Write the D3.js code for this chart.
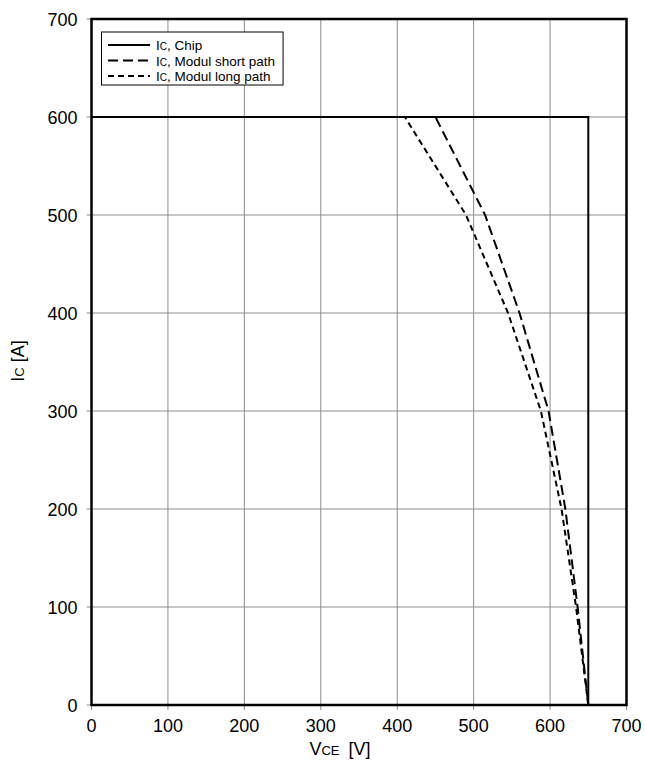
<!DOCTYPE html>
<html>
<head>
<meta charset="utf-8">
<script src="https://cdn.jsdelivr.net/npm/d3@7"></script>
<style>
    body { margin: 0; background: #fff; }
    text { font-family: "Liberation Sans", Arial, sans-serif; }
</style>
</head>
<body>
<div id="chart"></div>
<script>
// values
const xTicks = [0, 100, 200, 300, 400, 500, 600, 700];
const yTicks = [0, 100, 200, 300, 400, 500, 600, 700];

const chipV = [0, 650, 650];
const chipI = [600, 600, 0];

const shortV = [0, 450, 515, 560, 598, 620, 636, 650];
const shortI = [600, 600, 500, 400, 300, 200, 100, 0];

const longV = [0, 410, 490, 545, 588, 615, 634, 650];
const longI = [600, 600, 500, 400, 300, 200, 100, 0];

const seriesNames = ["Chip", "Modul short path", "Modul long path"];

function init() {
    let w = 645;
    let h = 763;
    const left = 91.5, right = 626.5, top = 19, bottom = 705;

    let svg = d3.select("#chart")
        .append("svg")
        .attr("width", w)
        .attr("height", h);

    let x = d3.scaleLinear().domain([0, 700]).range([left, right]);
    let y = d3.scaleLinear().domain([0, 700]).range([bottom, top]);

    // grid
    svg.append("g")
        .selectAll("line")
        .data(xTicks)
        .enter()
        .append("line")
        .attr("x1", d => x(d)).attr("x2", d => x(d))
        .attr("y1", top).attr("y2", bottom + 5)
        .attr("stroke", "#8c8c8c")
        .attr("stroke-width", 1);

    svg.append("g")
        .selectAll("line")
        .data(yTicks)
        .enter()
        .append("line")
        .attr("x1", left - 5).attr("x2", right)
        .attr("y1", d => y(d)).attr("y2", d => y(d))
        .attr("stroke", "#8c8c8c")
        .attr("stroke-width", 1);

    // tick labels
    svg.append("g")
        .selectAll("text")
        .data(xTicks)
        .enter()
        .append("text")
        .attr("x", d => x(d))
        .attr("y", bottom + 27)
        .attr("text-anchor", "middle")
        .style("font-size", "18px")
        .text(d => d);

    svg.append("g")
        .selectAll("text")
        .data(yTicks)
        .enter()
        .append("text")
        .attr("x", left - 14)
        .attr("y", d => y(d) + 6.5)
        .attr("text-anchor", "end")
        .style("font-size", "18px")
        .text(d => d);

    // curves
    let line = d3.line()
        .x(d => x(d[0]))
        .y(d => y(d[1]));

    let chip = chipV.map((v, i) => [v, chipI[i]]);
    let shortPath = shortV.map((v, i) => [v, shortI[i]]);
    let longPath = longV.map((v, i) => [v, longI[i]]);

    const dashes = [null, "10,5", "6,4"];

    [chip, shortPath, longPath].forEach(function (pts, k) {
        svg.append("path")
            .datum(pts)
            .attr("d", line)
            .attr("fill", "none")
            .attr("stroke", "#000")
            .attr("stroke-width", 2)
            .attr("stroke-dasharray", dashes[k]);
    });

    // frame
    svg.append("rect")
        .attr("x", left).attr("y", top)
        .attr("width", right - left).attr("height", bottom - top)
        .attr("fill", "none")
        .attr("stroke", "#000")
        .attr("stroke-width", 2.5);

    // legend
    let lg = svg.append("g");
    let box = lg.append("rect")
        .attr("x", 101.5).attr("y", 32)
        .attr("height", 53)
        .attr("fill", "#fff")
        .attr("stroke", "#000")
        .attr("stroke-width", 1);

    let maxEnd = 0;
    seriesNames.forEach(function (name, k) {
        let yy = 45 + k * 15.5;
        lg.append("line")
            .attr("x1", 108).attr("x2", 150)
            .attr("y1", yy).attr("y2", yy)
            .attr("stroke", "#000")
            .attr("stroke-width", 2)
            .attr("stroke-dasharray", dashes[k]);
        let t = lg.append("text")
            .attr("x", 156)
            .attr("y", yy + 5)
            .style("font-size", "13.5px");
        t.append("tspan").text("I");
        t.append("tspan").style("font-size", "10px").text("C");
        t.append("tspan").text(", " + name);
        maxEnd = Math.max(maxEnd, 156 + t.node().getComputedTextLength());
    });
    box.attr("width", maxEnd + 8 - 101.5);

    // axis titles
    let xt = svg.append("text")
        .attr("x", 340)
        .attr("y", 755)
        .attr("text-anchor", "middle")
        .style("font-size", "18px");
    xt.append("tspan").text("V");
    xt.append("tspan").style("font-size", "13px").text("CE");
    xt.append("tspan").attr("dx", 9).text("[V]");

    let yt = svg.append("text")
        .attr("transform", "translate(24," + 361 + ") rotate(-90)")
        .attr("text-anchor", "middle")
        .style("font-size", "18px");
    yt.append("tspan").text("I");
    yt.append("tspan").style("font-size", "13px").text("C");
    yt.append("tspan").text(" [A]");
}

window.addEventListener('load', init);
</script>
</body>
</html>
